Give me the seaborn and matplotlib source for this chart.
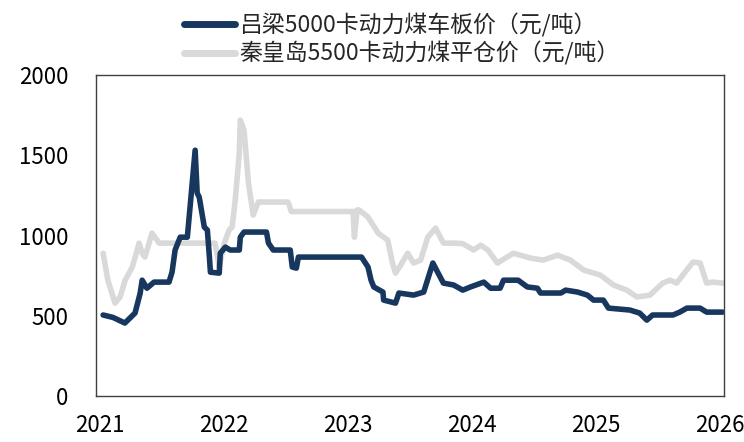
#coal price chart: Lvliang vs Qinhuangdao
import pandas as pd
import matplotlib.pyplot as plt
import matplotlib.dates as mdates
import seaborn as sns

#dark series - 吕梁5000卡动力煤车板价
lv_dates = ['2021-01-10', '2021-02-08', '2021-03-15', '2021-04-14', '2021-04-29', '2021-05-05',
            '2021-05-19', '2021-06-09', '2021-07-23', '2021-08-01', '2021-08-10', '2021-08-25',
            '2021-09-15', '2021-09-24', '2021-10-08', '2021-10-14', '2021-10-20', '2021-11-04',
            '2021-11-13', '2021-11-19', '2021-11-22', '2021-12-18', '2021-12-21', '2022-01-05',
            '2022-01-19', '2022-02-15', '2022-02-18', '2022-03-01', '2022-05-06', '2022-05-12',
            '2022-05-26', '2022-07-15', '2022-07-21', '2022-08-02', '2022-08-08', '2023-02-10',
            '2023-03-01', '2023-03-10', '2023-03-18', '2023-04-14', '2023-04-16', '2023-05-21',
            '2023-05-31', '2023-07-13', '2023-08-12', '2023-09-08', '2023-09-22', '2023-10-09',
            '2023-11-08', '2023-12-05', '2023-12-28', '2024-02-05', '2024-02-25', '2024-03-24',
            '2024-04-03', '2024-05-16', '2024-06-12', '2024-07-12', '2024-07-21', '2024-09-19',
            '2024-10-03', '2024-11-07', '2024-12-06', '2024-12-24', '2025-01-22', '2025-02-06',
            '2025-04-10', '2025-05-09', '2025-05-30', '2025-06-16', '2025-08-15', '2025-09-04',
            '2025-09-25', '2025-11-03', '2025-11-22', '2026-01-08']
lv_price = [505, 490, 455, 517, 640, 722,
            672, 710, 710, 772, 910, 990,
            990, 1200, 1532, 1265, 1240, 1053,
            1034, 866, 772, 766, 890, 928,
            910, 910, 990, 1022, 1022, 953,
            910, 910, 804, 797, 866, 866,
            804, 722, 680, 648, 598, 579,
            642, 629, 648, 829, 772, 704,
            692, 660, 680, 710, 672, 672,
            722, 722, 680, 672, 642, 642,
            660, 648, 629, 598, 598, 548,
            536, 517, 473, 505, 505, 523,
            548, 548, 523, 523]

#light series - 秦皇岛5500卡动力煤平仓价
qhd_dates = ['2021-01-10', '2021-01-24', '2021-02-14', '2021-03-01', '2021-03-16', '2021-04-06',
             '2021-04-26', '2021-05-05', '2021-05-13', '2021-06-03', '2021-06-24', '2021-12-06',
             '2021-12-18', '2022-01-02', '2022-01-16', '2022-01-25', '2022-02-03', '2022-02-15',
             '2022-02-18', '2022-03-01', '2022-03-14', '2022-03-28', '2022-04-12', '2022-07-08',
             '2022-07-12', '2022-07-18', '2023-01-16', '2023-01-20', '2023-01-28', '2023-02-03',
             '2023-03-01', '2023-03-31', '2023-04-28', '2023-05-12', '2023-05-21', '2023-06-05',
             '2023-06-26', '2023-07-13', '2023-08-03', '2023-08-24', '2023-09-16', '2023-10-09',
             '2023-11-08', '2023-12-05', '2024-01-06', '2024-01-27', '2024-02-17', '2024-03-16',
             '2024-05-02', '2024-06-21', '2024-07-29', '2024-09-09', '2024-10-17', '2024-11-25',
             '2025-01-13', '2025-02-21', '2025-04-01', '2025-05-01', '2025-06-08', '2025-07-16',
             '2025-08-06', '2025-08-26', '2025-09-13', '2025-10-13', '2025-11-03', '2025-11-22',
             '2025-12-10', '2026-01-08']
qhd_price = [890, 722, 579, 617, 722, 804,
             953, 890, 866, 1015, 953, 953,
             804, 953, 1034, 1053, 1221, 1514,
             1720, 1657, 1327, 1128, 1209, 1209,
             1190, 1150, 1150, 990, 1160, 1159,
             1115, 1015, 972, 829, 766, 816,
             890, 829, 847, 990, 1047, 953,
             953, 950, 910, 940, 910, 829,
             890, 860, 847, 878, 847, 785,
             754, 692, 660, 617, 629, 704,
             722, 704, 754, 835, 829, 704,
             710, 704]

lv_label = '吕梁5000卡动力煤车板价（元/吨）'
qhd_label = '秦皇岛5500卡动力煤平仓价（元/吨）'

lv_df = pd.DataFrame({'date': pd.to_datetime(lv_dates), 'price': lv_price})
qhd_df = pd.DataFrame({'date': pd.to_datetime(qhd_dates), 'price': qhd_price})

sns.set_theme(style="white")
plt.rcParams['font.family'] = ['Noto Sans CJK SC', 'DejaVu Sans']

fig = plt.figure(figsize=(7.44, 4.42), dpi=100)
ax = fig.add_axes([0.129, 0.104, 0.844, 0.726])

#light one first so the dark line sits on top
sns.lineplot(data=qhd_df, x='date', y='price', color='#D9D9D9', linewidth=4,
             label=qhd_label, ax=ax)
sns.lineplot(data=lv_df, x='date', y='price', color='#17375E', linewidth=4,
             label=lv_label, ax=ax)

ax.set_xlim(pd.Timestamp('2020-12-20'), pd.Timestamp('2026-01-12'))
ax.set_ylim(0, 2000)
ax.set_yticks([0, 500, 1000, 1500, 2000])
ax.xaxis.set_major_locator(mdates.YearLocator())
ax.xaxis.set_major_formatter(mdates.DateFormatter('%Y'))
ax.set_xlabel('')
ax.set_ylabel('')
ax.tick_params(axis='both', length=0, labelsize=16, colors='black')
ax.tick_params(axis='y', pad=20)
ax.tick_params(axis='x', pad=13)
for s in ax.spines.values():
    s.set_color('#404040')
    s.set_linewidth(1)

handles, labels = ax.get_legend_handles_labels()
leg = ax.legend(handles[::-1], labels[::-1], loc='lower center', bbox_to_anchor=(0.487, 1.0),
                ncol=1, frameon=False, fontsize=16.5, handlelength=2.2, handletextpad=0.2,
                labelspacing=0.2, borderaxespad=0)
for line in leg.get_lines():
    line.set_linewidth(5)

fig.savefig('out.png', dpi=100)
